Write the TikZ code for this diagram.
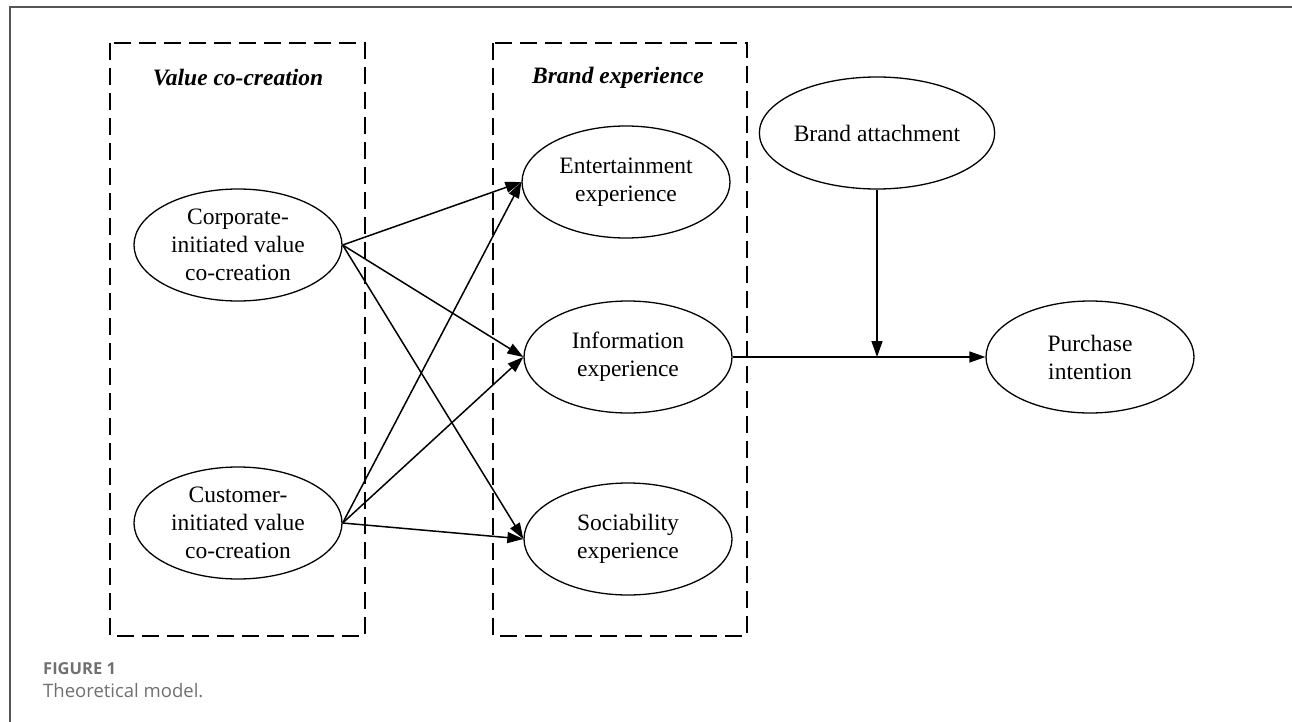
\documentclass[tikz,border=0pt]{standalone}
\usepackage{fontspec}
\setmainfont{Liberation Serif}
\newfontfamily\capfont{Open Sans}
\usetikzlibrary{shapes.geometric,arrows.meta}
\definecolor{capgray}{HTML}{707070}
\definecolor{framegray}{HTML}{555555}
\tikzset{
  ell/.style={ellipse, draw, line width=1.3pt, minimum width=208pt, minimum height=112pt,
    inner sep=0pt, align=center, font=\fontsize{23.5}{28}\selectfont},
  dashbox/.style={draw, line width=1.4pt, dash pattern=on 17pt off 8pt},
  boxtitle/.style={font=\fontsize{23.5}{28}\selectfont\bfseries\itshape},
  arr/.style={-{Triangle[length=16pt,width=11pt]}, line width=1.5pt},
}
\begin{document}
\begin{tikzpicture}[x=1pt,y=-1pt]
\useasboundingbox (0,0) rectangle (1292,722);
% outer frame (left and top edges)
\draw[framegray, line width=1.3pt] (10,722) -- (10,7) -- (1292,7);
% dashed group boxes
\draw[dashbox] (110,43) rectangle (365,636);
\draw[dashbox] (493,43) rectangle (747,636);
\node[boxtitle] (vctitle) at (238,78) {Value co-creation};
\node[boxtitle] (betitle) at (618,78) {Brand experience};
% ellipses
\node[ell] (corp) at (238,245) {Corporate-\\initiated value\\co-creation};
\node[ell] (cust) at (238,523) {Customer-\\initiated value\\co-creation};
\node[ell] (ent) at (626,182) {Entertainment\\experience};
\node[ell] (info) at (628,357) {Information\\experience};
\node[ell] (soc) at (628,539) {Sociability\\experience};
\node[ell] (att) at (877,133) {Brand attachment};
\node[ell] (pur) at (1090,357) {Purchase\\intention};
% arrows
\draw[arr] (corp.east) -- (ent.west);
\draw[arr] (corp.east) -- (info.west);
\draw[arr] (corp.east) -- (soc.west);
\draw[arr] (cust.east) -- (ent.west);
\draw[arr] (cust.east) -- (info.west);
\draw[arr] (cust.east) -- (soc.west);
\draw[arr] (info.east) -- (pur.west);
\coordinate (mod) at (877,357);
\draw[arr] (att.south) -- (mod);
% caption
\node[anchor=base west, inner sep=0pt, text=capgray, font=\capfont\fontsize{16.5}{19}\selectfont\bfseries] (figlabel) at (43,674) {FIGURE 1};
\node[anchor=base west, inner sep=0pt, text=capgray, font=\capfont\fontsize{18.5}{22}\selectfont] (figcap) at (43,697) {Theoretical model.};
\end{tikzpicture}
\end{document}
